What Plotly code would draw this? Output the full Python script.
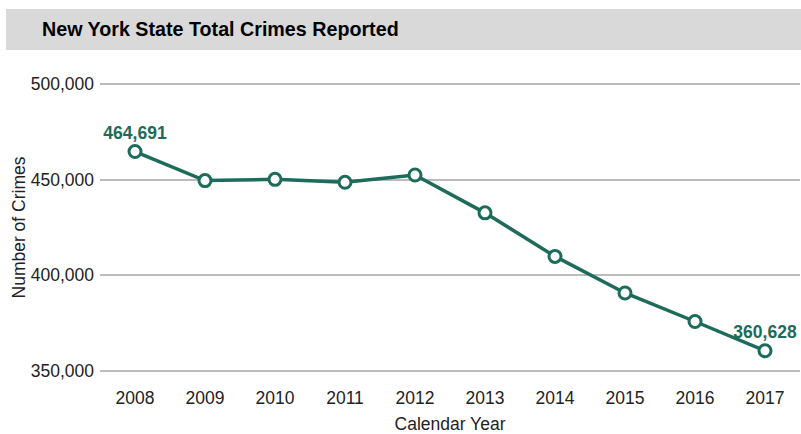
import plotly.graph_objects as go

years = ["2008", "2009", "2010", "2011", "2012", "2013", "2014", "2015", "2016", "2017"]
crimes = [464691, 449500, 450150, 448600, 452450, 432650, 409900, 390800, 375900, 360628]
label_text = ["464,691", "", "", "", "", "", "", "", "", "360,628"]
y_ticks = [350000, 400000, 450000, 500000]
y_tick_labels = ["350,000", "400,000", "450,000", "500,000"]

teal = "#1c6b5b"
font_family = "Arial, Liberation Sans, sans-serif"
fs = 17.5

W, H = 801, 434
ml, mr, mt, mb = 100, 1, 82, 61
pw = W - ml - mr
ph = H - mt - mb

def px_x(x):
    return (x - ml) / pw

def px_y(y):
    return (H - mb - y) / ph

fig = go.Figure()
fig.add_trace(go.Scatter(
    x=years, y=crimes, mode="lines+markers+text",
    text=label_text, textposition="top center",
    textfont=dict(family=font_family, size=fs, color=teal, weight="bold"),
    line=dict(color=teal, width=3.5),
    marker=dict(size=12, color="white", line=dict(color=teal, width=3)),
    cliponaxis=False, hoverinfo="x+y",
))

fig.update_layout(
    width=W, height=H,
    margin=dict(l=ml, r=mr, t=mt, b=mb),
    paper_bgcolor="white", plot_bgcolor="white",
    showlegend=False,
    font=dict(family=font_family, size=fs, color="#222222"),
    xaxis=dict(
        type="category", range=[-0.5, 9.5], showgrid=False, zeroline=False,
        showline=False, ticks="", tickfont=dict(size=fs, color="#222222"),
        title=dict(text="Calendar Year", font=dict(size=fs, color="#222222"), standoff=11),
        ticklabelstandoff=12,
    ),
    yaxis=dict(
        range=[349000, 501000], tickvals=y_ticks, ticktext=y_tick_labels,
        showgrid=True, gridcolor="#bcbcbc", gridwidth=2, zeroline=False,
        showline=False, ticks="", tickfont=dict(size=fs, color="#222222"),
        ticklabelstandoff=5,
        title=dict(text="Number of Crimes", font=dict(size=fs, color="#222222"), standoff=0),
    ),
    shapes=[dict(
        type="rect", xref="paper", yref="paper",
        x0=px_x(6), x1=px_x(801), y0=px_y(50), y1=px_y(9),
        fillcolor="#d9d9d9", line=dict(width=0), layer="below",
    )],
    annotations=[dict(
        text="<b>New York State Total Crimes Reported</b>",
        xref="paper", yref="paper", x=px_x(40), y=px_y(29),
        xanchor="left", yanchor="middle", showarrow=False,
        font=dict(family=font_family, size=19.7, color="#000000"),
    )],
)

fig.write_html("out.html", config={"displayModeBar": False})

with open("out.html", "r", encoding="utf-8") as f:
    html = f.read()
html = html.replace("<head>", "<head><style>html,body{margin:0;padding:0;overflow:hidden;}</style>", 1)
with open("out.html", "w", encoding="utf-8") as f:
    f.write(html)
